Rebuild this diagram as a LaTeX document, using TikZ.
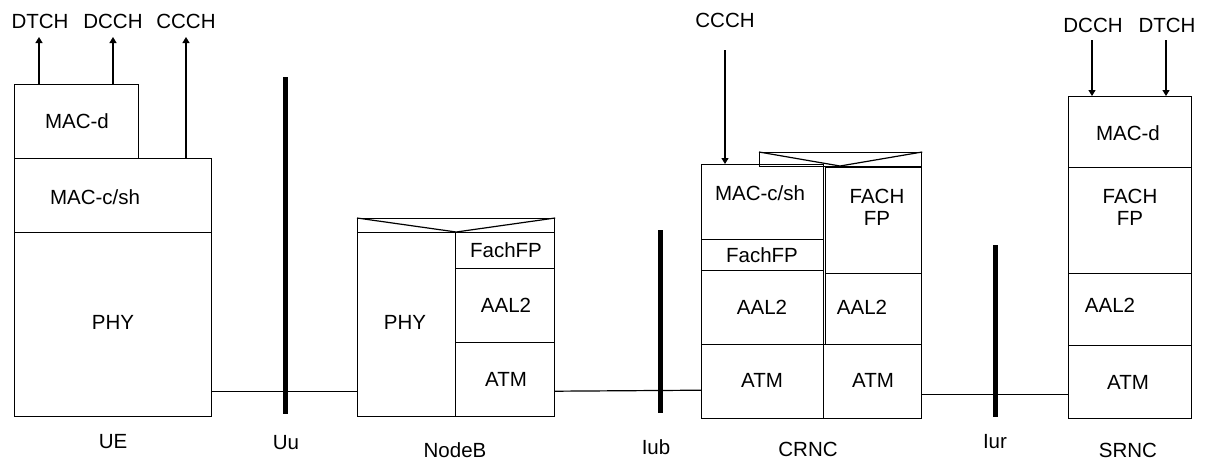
\documentclass[tikz,border=0pt]{standalone}
\usepackage{fontspec}
\setmainfont{Liberation Sans}
\usetikzlibrary{arrows.meta}
\begin{document}
\begin{tikzpicture}[x=1pt,y=-1pt,
  lbl/.style={font=\fontsize{20.5}{22}\selectfont, inner sep=0pt, align=center},
  blk/.style={draw, line width=1.2pt, inner sep=0pt, anchor=north west},
  bar/.style={line width=5pt},
  conn/.style={line width=1.2pt},
  arr/.style={line width=1.2pt, -{Triangle[width=7pt,length=6pt]}}]
\useasboundingbox (0,0) rectangle (1205,461);
% ---------- UE ----------
\node[blk, minimum width=124pt, minimum height=74pt] (ued) at (14,84) {};
\node[blk, minimum width=197pt, minimum height=74pt] (uec) at (14,158) {};
\node[blk, minimum width=197pt, minimum height=184pt] (uep) at (14,232) {};
\node[lbl] (tued) at (77,121) {MAC-d};
\node[lbl] (tuec) at (95,197) {MAC-c/sh};
\node[lbl] (tuep) at (113,322) {PHY};
\node[lbl] (ldtch) at (40,21) {DTCH};
\node[lbl] (ldcch) at (113,21) {DCCH};
\node[lbl] (lccch) at (186,21) {CCCH};
\coordinate (a1) at (39,84);
\coordinate (a2) at (113,84);
\coordinate (a3) at (186,158);
\coordinate (e1) at (39,37);
\coordinate (e2) at (113,37);
\coordinate (e3) at (186,37);
\draw[arr] (a1) -- (e1);
\draw[arr] (a2) -- (e2);
\draw[arr] (a3) -- (e3);
\node[lbl] (lue) at (113,442) {UE};
% ---------- Uu ----------
\coordinate (uut) at (285,77);
\coordinate (uub) at (285,414);
\draw[bar] (uut) -- (uub);
\node[lbl] (luu) at (286,443) {Uu};
% ---------- NodeB ----------
\node[blk, minimum width=197pt, minimum height=14pt] (nbs) at (357,218) {};
\node[blk, minimum width=98pt, minimum height=184pt] (nbp) at (357,232) {};
\node[blk, minimum width=99pt, minimum height=36pt] (nbf) at (455,232) {};
\node[blk, minimum width=99pt, minimum height=74pt] (nba) at (455,268) {};
\node[blk, minimum width=99pt, minimum height=74pt] (nbt) at (455,342) {};
\draw[conn] (nbs.north west) -- (nbp.north east) -- (nbs.north east);
\node[lbl] (tnbp) at (405,322) {PHY};
\node[lbl] (tnbf) at (506,250) {FachFP};
\node[lbl] (tnba) at (506,305) {AAL2};
\node[lbl] (tnbt) at (506,379) {ATM};
\node[lbl] (lnb) at (455,450) {NodeB};
\draw[conn] ([yshift=26pt]uep.south east) -- ([yshift=26pt]nbp.south west);
% ---------- Iub ----------
\coordinate (iubt) at (660,230);
\coordinate (iubb) at (660,413);
\draw[bar] (iubt) -- (iubb);
\node[lbl] (liub) at (656,447) {Iub};
% ---------- CRNC ----------
\node[blk, minimum width=122pt, minimum height=75pt] (crm) at (701,164) {};
\node[blk, minimum width=122pt, minimum height=31pt] (crf) at (701,239) {};
\node[blk, minimum width=122pt, minimum height=74pt] (cra) at (701,270) {};
\node[blk, minimum width=162pt, minimum height=14pt] (crs) at (759,152) {};
\node[blk, minimum width=96pt, minimum height=106pt] (crF) at (825,167) {};
\node[blk, minimum width=96pt, minimum height=71pt] (crA) at (825,273) {};
\node[blk, minimum width=122pt, minimum height=74pt] (crt1) at (701,344) {};
\node[blk, minimum width=98pt, minimum height=74pt] (crt2) at (823,344) {};
\coordinate (crv) at (840,166);
\draw[conn] (crs.north west) -- (crv) -- (crs.north east);
\node[lbl] (tcrm) at (760,193) {MAC-c/sh};
\node[lbl] (tcrf) at (762,255) {FachFP};
\node[lbl] (tcra) at (762,307) {AAL2};
\node[lbl] (tcrF) at (877,207) {FACH\\FP};
\node[lbl] (tcrA) at (862,307) {AAL2};
\node[lbl] (tcrt1) at (762,380) {ATM};
\node[lbl] (tcrt2) at (873,380) {ATM};
\node[lbl] (lcr) at (808,449) {CRNC};
\draw[conn] ([yshift=26pt]nbt.south east) -- ([yshift=29pt]crt1.south west);
\node[lbl] (lccch2) at (725,20) {CCCH};
\coordinate (s4) at (725,50);
\coordinate (a4) at (725,164);
\draw[arr] (s4) -- (a4);
% ---------- Iur ----------
\coordinate (iurt) at (995,245);
\coordinate (iurb) at (995,417);
\draw[bar] (iurt) -- (iurb);
\node[lbl] (liur) at (995,442) {Iur};
% ---------- SRNC ----------
\node[blk, minimum width=123pt, minimum height=71pt] (srm) at (1068,96) {};
\node[blk, minimum width=123pt, minimum height=106pt] (srf) at (1068,167) {};
\node[blk, minimum width=123pt, minimum height=72pt] (sra) at (1068,273) {};
\node[blk, minimum width=123pt, minimum height=73pt] (srt) at (1068,345) {};
\node[lbl] (tsrm) at (1128,133) {MAC-d};
\node[lbl] (tsrf) at (1130,207) {FACH\\FP};
\node[lbl] (tsra) at (1110,305) {AAL2};
\node[lbl] (tsrt) at (1128,382) {ATM};
\node[lbl] (lsr) at (1128,450) {SRNC};
\node[lbl] (ldcch2) at (1093,25) {DCCH};
\node[lbl] (ldtch2) at (1167,25) {DTCH};
\coordinate (s5) at (1092,40);
\coordinate (s6) at (1166,40);
\coordinate (a5) at (1092,96);
\coordinate (a6) at (1166,96);
\draw[arr] (s5) -- (a5);
\draw[arr] (s6) -- (a6);
\draw[conn] ([yshift=25pt]crt2.south east) -- ([yshift=25pt]srt.south west);
\end{tikzpicture}
\end{document}
